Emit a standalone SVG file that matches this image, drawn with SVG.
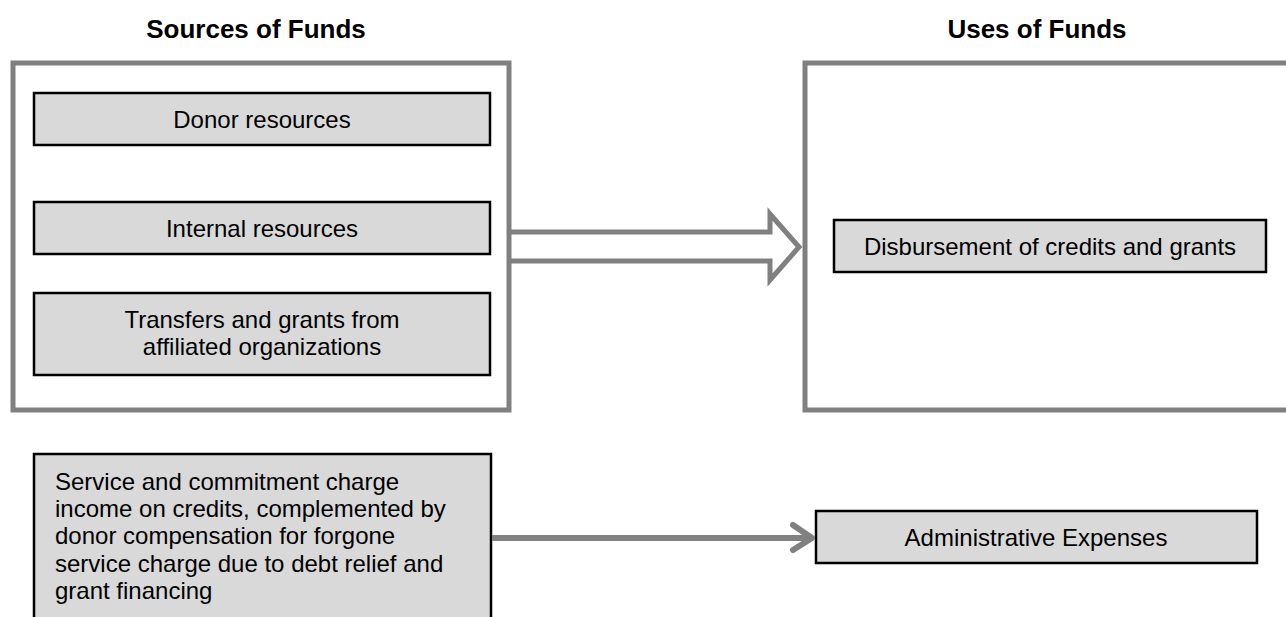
<svg xmlns="http://www.w3.org/2000/svg" width="1286" height="617" viewBox="0 0 1286 617">
  <style>
    .title { font-family: "Liberation Sans", Arial, sans-serif; font-size: 26px; font-weight: bold; fill: #000; text-anchor: middle; }
    .lbl { font-family: "Liberation Sans", Arial, sans-serif; font-size: 24px; fill: #000; }
    .mid { text-anchor: middle; }
    .outer { fill: #fff; stroke: #808080; stroke-width: 5; }
    .item { fill: #d9d9d9; stroke: #000; stroke-width: 2.5; }
    .conn { fill: none; stroke: #808080; stroke-width: 5; stroke-linejoin: miter; }
  </style>
  <rect width="1286" height="617" fill="#fff"/>

  <text class="title" x="256" y="38">Sources of Funds</text>
  <text class="title" x="1037" y="38">Uses of Funds</text>

  <g id="sources">
    <rect class="outer" x="13" y="63" width="496" height="347"/>
  </g>
  <g id="uses">
    <rect class="outer" x="805" y="63" width="490" height="347"/>
  </g>

  <g id="donor">
    <rect class="item" x="34" y="93" width="456" height="52"/>
    <text class="lbl mid" x="262" y="128">Donor resources</text>
  </g>
  <g id="internal">
    <rect class="item" x="34" y="202" width="456" height="52"/>
    <text class="lbl mid" x="262" y="237">Internal resources</text>
  </g>
  <g id="transfers">
    <rect class="item" x="34" y="293" width="456" height="82"/>
    <text class="lbl mid" x="262" y="328">Transfers and grants from</text>
    <text class="lbl mid" x="262" y="355">affiliated organizations</text>
  </g>
  <g id="disbursement">
    <rect class="item" x="834" y="220" width="432" height="52"/>
    <text class="lbl mid" x="1050" y="255">Disbursement of credits and grants</text>
  </g>
  <g id="service">
    <rect class="item" x="34" y="454" width="457" height="180"/>
    <text class="lbl" x="55" y="490">Service and commitment charge</text>
    <text class="lbl" x="55" y="517">income on credits, complemented by</text>
    <text class="lbl" x="55" y="544">donor compensation for forgone</text>
    <text class="lbl" x="55" y="572">service charge due to debt relief and</text>
    <text class="lbl" x="55" y="599">grant financing</text>
  </g>
  <g id="admin">
    <rect class="item" x="816" y="511" width="441" height="52"/>
    <text class="lbl mid" x="1036" y="546">Administrative Expenses</text>
  </g>

  <g id="connectors">
    <path class="conn" d="M511,232 L770,232 L770,214 L799,247 L770,280 L770,261 L511,261"/>
    <line x1="492" y1="538" x2="811" y2="538" stroke="#808080" stroke-width="6"/>
    <path d="M793,525 L812,538 L793,550" fill="none" stroke="#808080" stroke-width="6" stroke-linecap="round" stroke-linejoin="round"/>
  </g>
</svg>
